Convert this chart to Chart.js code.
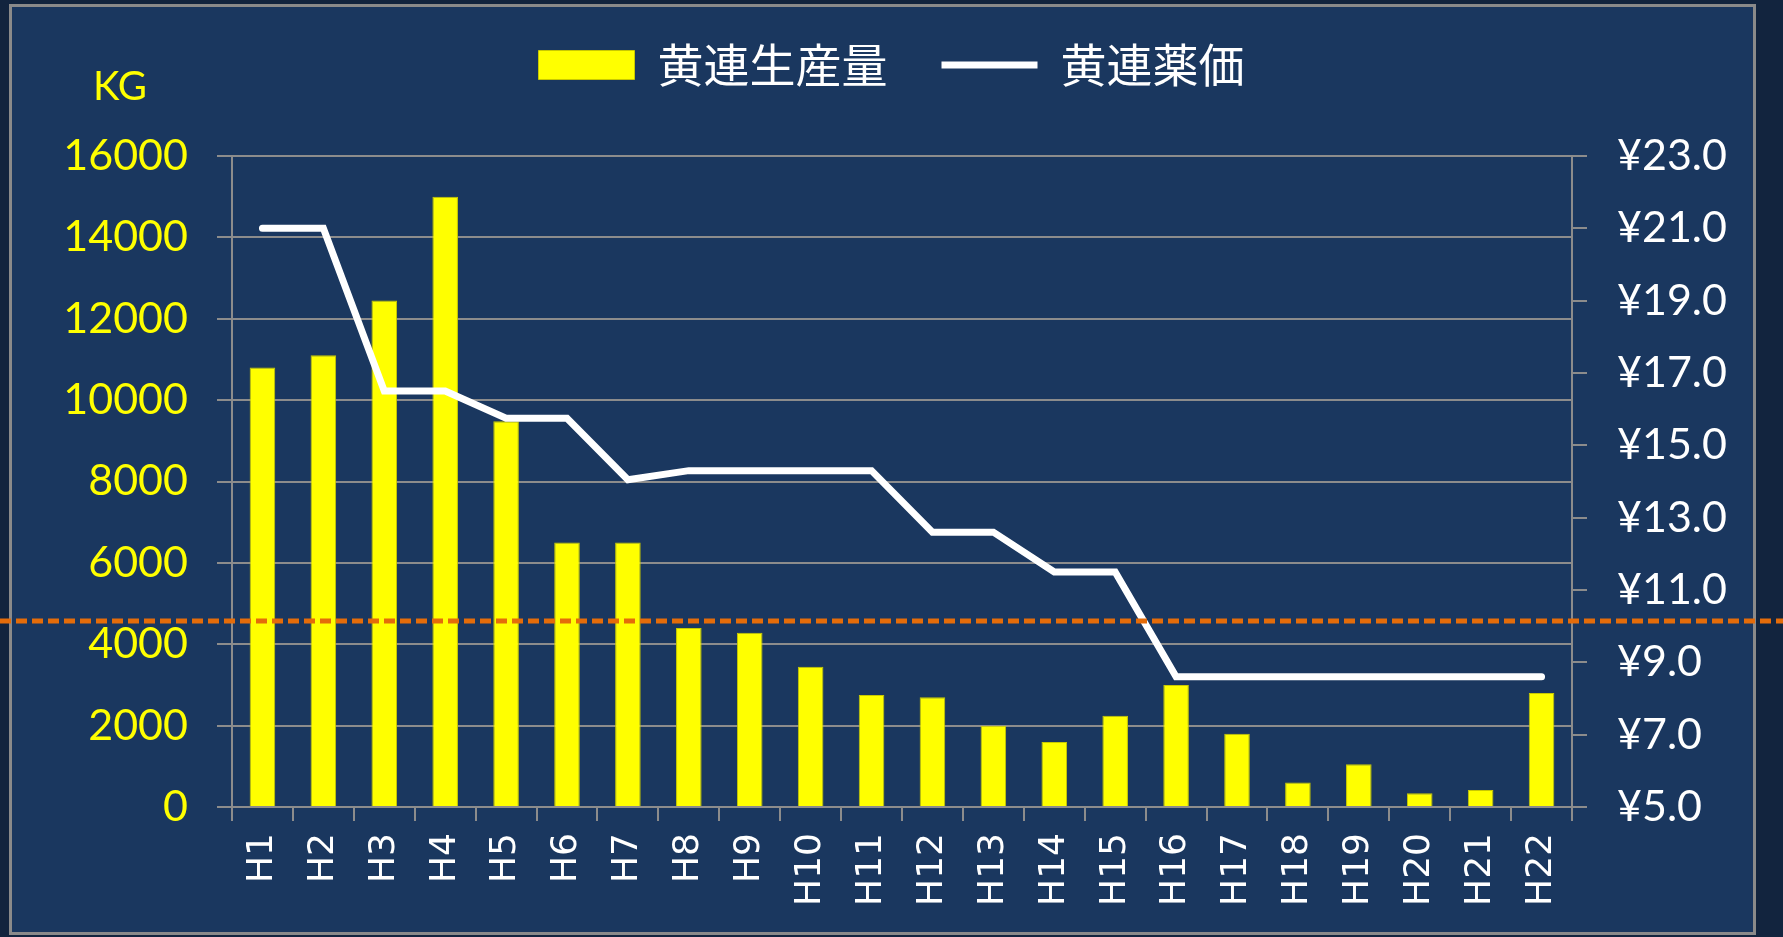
<!DOCTYPE html>
<html>
<head>
<meta charset="utf-8">
<script src="https://cdn.jsdelivr.net/npm/chart.js@4.4.0/dist/chart.umd.min.js"></script>
<style>
  html, body { margin: 0; padding: 0; background: #12243e; overflow: hidden; }
  #frame {
    position: absolute; left: 9px; top: 4px; width: 1747px; height: 931px;
    box-sizing: border-box; border: 3px solid #8a8a8a; background: #1a375f;
  }
  #chart { position: absolute; left: 0; top: 0; }
</style>
</head>
<body>
<div id="frame"></div>
<canvas id="chart" width="1783" height="937"></canvas>
<script>
const categories = ["H1", "H2", "H3", "H4", "H5", "H6", "H7", "H8", "H9", "H10", "H11",
    "H12", "H13", "H14", "H15", "H16", "H17", "H18", "H19", "H20", "H21", "H22"];

// 黄連生産量 (KG)
const production = [10800, 11100, 12450, 15000, 9480, 6500, 6500, 4400, 4280, 3450, 2750,
    2700, 2000, 1600, 2240, 3000, 1800, 600, 1050, 340, 420, 2800];

// 黄連薬価 (yen)
const price = [21.0, 21.0, 16.5, 16.5, 15.75, 15.75, 14.05, 14.3, 14.3, 14.3, 14.3,
    12.6, 12.6, 11.5, 11.5, 8.6, 8.6, 8.6, 8.6, 8.6, 8.6, 8.6];

const kgTicks = ["0", "2000", "4000", "6000", "8000", "10000", "12000", "14000", "16000"];
const yenTicks = ["¥5.0", "¥7.0", "¥9.0", "¥11.0", "¥13.0", "¥15.0", "¥17.0", "¥19.0", "¥21.0", "¥23.0"];

// orange dashed reference level, on the KG axis
const referenceLevel = 4570;

const gray = "#8c8c8c";

const referenceLine = {
    id: "referenceLine",
    afterDatasetsDraw(chart) {
        const ctx = chart.ctx;
        const y = chart.scales.y.getPixelForValue(referenceLevel);
        ctx.save();
        ctx.strokeStyle = "#e46c0a";
        ctx.lineWidth = 5;
        ctx.setLineDash([11, 5]);
        ctx.beginPath();
        ctx.moveTo(0, y);
        ctx.lineTo(chart.width, y);
        ctx.stroke();
        ctx.restore();
    },
};

const unitLabel = {
    id: "unitLabel",
    afterDraw(chart) {
        const ctx = chart.ctx;
        const area = chart.chartArea;
        ctx.save();
        ctx.fillStyle = "#ffff00";
        ctx.font = "40px Lato";
        ctx.textAlign = "center";
        ctx.textBaseline = "middle";
        ctx.fillText("KG", area.left - 112, area.top - 69);
        ctx.restore();
    },
};

new Chart(document.getElementById("chart").getContext("2d"), {
    type: "bar",
    data: {
        labels: categories,
        datasets: [
            {
                type: "bar",
                label: "黄連生産量",
                data: production,
                yAxisID: "y",
                backgroundColor: "#ffff00",
                borderColor: "#c9c900",
                borderWidth: 1,
                barPercentage: 0.42,
                categoryPercentage: 1,
                pointStyle: "rect",
                order: 1,
            },
            {
                type: "line",
                label: "黄連薬価",
                data: price,
                yAxisID: "y1",
                borderColor: "#ffffff",
                backgroundColor: "#ffffff",
                borderWidth: 7,
                borderCapStyle: "round",
                borderJoinStyle: "miter",
                tension: 0,
                pointRadius: 0,
                pointStyle: "line",
                order: 0,
            },
        ],
    },
    options: {
        responsive: false,
        animation: false,
        layout: { padding: { top: -12, left: 0, right: 0, bottom: 0 } },
        plugins: {
            legend: {
                position: "top",
                labels: {
                    usePointStyle: true,
                    pointStyleWidth: 96,
                    boxHeight: 29,
                    padding: 54,
                    color: "#ffffff",
                    font: { family: "'Noto Sans CJK JP'", size: 46 },
                    sort: (a, b) => a.datasetIndex - b.datasetIndex,
                },
            },
            title: {
                display: true,
                text: "",
                weight: 900,
                font: { size: 1, lineHeight: 1 },
                padding: { top: 0, bottom: 57 },
            },
            tooltip: { enabled: false },
        },
        scales: {
            x: {
                ticks: {
                    color: "#ffffff",
                    font: { family: "'DejaVu Sans'", size: 36 },
                    minRotation: 90,
                    maxRotation: 90,
                    autoSkip: false,
                    padding: 12,
                },
                grid: {
                    offset: true,
                    drawOnChartArea: false,
                    tickLength: 14,
                    color: gray,
                    lineWidth: 2,
                },
                border: { color: gray, width: 2 },
                afterFit: (s) => { s.height = 130; },
            },
            y: {
                position: "left",
                min: 0,
                max: 16000,
                ticks: {
                    stepSize: 2000,
                    color: "#ffff00",
                    font: { family: "Lato", size: 43 },
                    padding: 29,
                    callback: (v, i) => kgTicks[i],
                },
                grid: { color: gray, lineWidth: 2, tickLength: 15 },
                border: { color: gray, width: 2 },
                afterFit: (s) => { s.width = 232; },
            },
            y1: {
                position: "right",
                min: 5,
                max: 23,
                ticks: {
                    stepSize: 2,
                    color: "#ffffff",
                    font: { family: "Lato", size: 43 },
                    padding: 30,
                    callback: (v, i) => yenTicks[i],
                },
                grid: { drawOnChartArea: false, color: gray, lineWidth: 2, tickLength: 15 },
                border: { color: gray, width: 2 },
                afterFit: (s) => { s.width = 211; },
            },
        },
    },
    plugins: [referenceLine, unitLabel],
});
</script>
</body>
</html>
